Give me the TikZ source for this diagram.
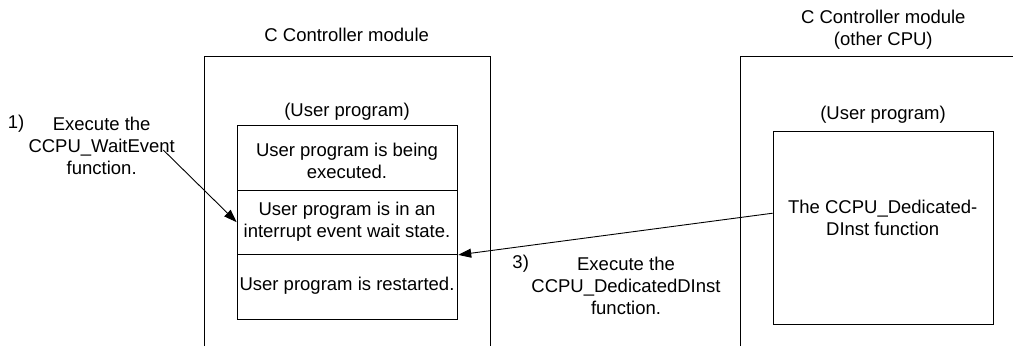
\documentclass[tikz,border=0pt]{standalone}
\usepackage{fontspec}
\setmainfont{Liberation Sans}
\usetikzlibrary{arrows.meta}
\begin{document}
\begin{tikzpicture}[x=1pt,y=-1pt,
  txt/.style={inner sep=0pt,align=center,font=\fontsize{18.5}{22}\selectfont},
  sect/.style={draw,line width=0.9pt,minimum width=220.6pt,minimum height=64.5pt,inner sep=0pt,anchor=north west},
  outer/.style={line width=0.9pt},
  arr/.style={line width=0.9pt,-{Triangle[length=13pt,width=9pt]}}]
\useasboundingbox (0,0) rectangle (1013,346);
% left module
\node[txt] (t1) at (346.7,35) {C Controller module};
\draw[outer] (204.7,346) -- (204.7,56.7) -- (490.3,56.7) -- (490.3,346);
\node[txt] (u1) at (347,111.7) {(User program)};
\node[sect] (s1) at (236.7,125) {};
\node[sect] (s2) at (236.7,189.5) {};
\node[sect] (s3) at (236.7,254) {};
\node[txt] at (347,160.5) {User program is being\\executed.};
\node[txt] at (347,221.5) {User program is in an\\interrupt event wait state.};
\node[txt] at (347,286) {User program is restarted.};
% right module
\node[txt] (t2) at (883.3,29.5) {C Controller module\\(other CPU)};
\draw[outer] (740,346) -- (740,56.7) -- (1013,56.7);
\node[txt] (u2) at (883,115) {(User program)};
\node[draw,line width=0.9pt,minimum width=220pt,minimum height=193.3pt,inner sep=0pt,anchor=north west] (r) at (772.7,130.7) {};
\node[txt] (rt) at (882.7,218) {The CCPU\_Dedicated-\\DInst function};
% label 1
\node[txt] (n1) at (16,124) {1)};
\node[txt] (l1) at (101.7,146.2) {Execute the\\CCPU\_WaitEvent\\function.};
\coordinate (a1) at (163.3,150);
\draw[arr] (a1) -- (s2.west);
% label 3
\node[txt] (n3) at (520.7,263.3) {3)};
\node[txt] (l3) at (626,285.8) {Execute the\\CCPU\_DedicatedDInst\\function.};
\draw[arr] ([yshift=14.6pt]r.west) -- (s2.south east);
\end{tikzpicture}
\end{document}
